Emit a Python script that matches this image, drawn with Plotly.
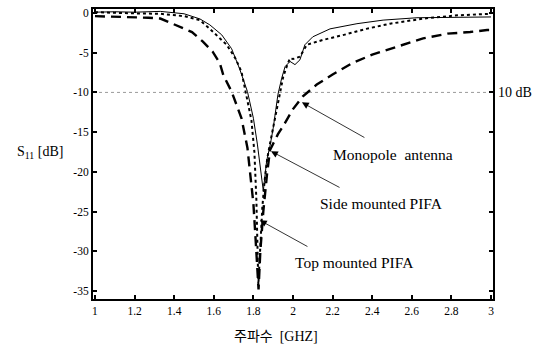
import plotly.graph_objects as go

# ---- data (frequency in GHz, S11 in dB) ----
mono_x = [1.00, 1.10, 1.20, 1.27, 1.33, 1.41, 1.49, 1.545, 1.595, 1.63, 1.648, 1.69, 1.74, 1.77,
          1.785, 1.80, 1.81, 1.82, 1.826, 1.835, 1.85, 1.869, 1.884, 1.924, 1.95, 2.00, 2.05,
          2.12, 2.20, 2.30, 2.40, 2.525, 2.657, 2.78, 2.894, 2.98, 3.00]
mono_y = [-0.4, -0.45, -0.5, -0.6, -0.7, -1.5, -2.4, -3.6, -4.9, -6.3, -7.8, -9.9, -13.25, -17.0,
          -20.25, -24.0, -28.0, -33.0, -34.8, -30.0, -25.0, -20.25, -17.25, -15.25, -14.25, -12.1, -10.5,
          -9.0, -7.75, -6.3, -5.25, -4.25, -3.2, -2.6, -2.4, -2.15, -2.15]

side_x = [1.00, 1.10, 1.20, 1.33, 1.45, 1.53, 1.58, 1.64, 1.69, 1.73, 1.77, 1.80, 1.82, 1.835,
          1.85, 1.867, 1.885, 1.90, 1.924, 1.943, 1.96, 1.985, 2.01, 2.035, 2.06, 2.10, 2.187,
          2.323, 2.455, 2.626, 2.83, 3.00]
side_y = [0.1, 0.15, 0.1, 0.2, -0.1, -0.75, -1.5, -2.75, -4.5, -7.0, -9.9, -13.25, -16.5, -19.5,
          -22.4, -18.6, -16.6, -14.5, -10.25, -8.2, -6.75, -6.1, -6.5, -5.9, -4.0, -3.0, -2.0,
          -1.35, -0.9, -0.6, -0.5, -0.5]

top_x = [1.00, 1.10, 1.20, 1.33, 1.45, 1.53, 1.58, 1.665, 1.71, 1.74, 1.76, 1.79, 1.805, 1.815,
         1.825, 1.835, 1.845, 1.857, 1.87, 1.885, 1.90, 1.93, 1.95, 1.97, 1.985, 2.00, 2.035,
         2.07, 2.15, 2.25, 2.37, 2.49, 2.66, 2.83, 3.00]
top_y = [0.1, 0.0, -0.05, -0.1, -0.4, -0.9, -2.0, -4.0, -5.75, -7.4, -9.9, -13.5, -17.5, -23.5,
         -34.2, -29.0, -24.5, -21.0, -18.3, -16.3, -14.3, -10.3, -8.1, -6.6, -5.7, -5.8, -5.5,
         -4.0, -3.4, -2.8, -2.0, -1.35, -0.7, -0.3, -0.1]

x_ticks = [1, 1.2, 1.4, 1.6, 1.8, 2, 2.2, 2.4, 2.6, 2.8, 3]
x_tick_text = ["1", "1.2", "1.4", "1.6", "1.8", "2", "2.2", "2.4", "2.6", "2.8", "3"]
y_ticks = [0, -5, -10, -15, -20, -25, -30, -35]
y_tick_text = ["0", "-5", "-10", "-15", "-20", "-25", "-30", "-35"]

ref_level = -10
labels = ["Monopole  antenna", "Side mounted PIFA", "Top mounted PIFA"]
arrow_tips = [(2.045, -11.25), (1.889, -17.4), (1.833, -26.1)]

serif = "Liberation Serif, Times New Roman, serif"

fig = go.Figure()
fig.add_trace(go.Scatter(x=mono_x, y=mono_y, mode="lines", name=labels[0],
                         line=dict(color="black", width=2.4, dash="10px,6px")))
fig.add_trace(go.Scatter(x=top_x, y=top_y, mode="lines", name=labels[2],
                         line=dict(color="black", width=2.0, dash="dot")))
fig.add_trace(go.Scatter(x=side_x, y=side_y, mode="lines", name=labels[1],
                         line=dict(color="black", width=1.0)))

# -10 dB reference line
fig.add_shape(type="line", xref="paper", x0=0, x1=1, yref="y", y0=ref_level, y1=ref_level,
              line=dict(color="#9a9a9a", width=1, dash="dot"), layer="below")

fig.add_annotation(xref="paper", x=1, xshift=3, xanchor="left", yref="y", y=ref_level,
                   text="10 dB", showarrow=False, font=dict(family=serif, size=14, color="black"))

# arrows
tails = [(64, 36), (70, 37), (49, 27)]
for (tx, ty), (ax, ay) in zip(arrow_tips, tails):
    fig.add_annotation(x=tx, y=ty, ax=ax, ay=ay, text="", showarrow=True,
                       arrowhead=2, arrowsize=1.7, arrowwidth=0.8, arrowcolor="black",
                       standoff=0)

# labels
label_pos = [(2.19, -17.75), (2.126, -24.0), (2.0, -31.4)]
for t, (lx, ly) in zip(labels, label_pos):
    fig.add_annotation(x=lx, y=ly, text=t, showarrow=False, xanchor="left", yanchor="middle",
                       font=dict(family=serif, size=15.5, color="black"))

# axis titles
fig.add_annotation(xref="paper", x=-0.1325, yref="y", y=-17.6, text="S<sub>11</sub> [dB]",
                   showarrow=False, xanchor="center", yanchor="middle",
                   font=dict(family=serif, size=14, color="black"))
fig.add_annotation(xref="paper", x=0.4575, yref="paper", y=-0.13, text="주파수  [GHZ]",
                   showarrow=False, xanchor="center", yanchor="middle",
                   font=dict(family="Liberation Serif, Noto Sans CJK KR, serif", size=14, color="black"))

axis_common = dict(showline=True, linecolor="black", linewidth=2, mirror="ticks",
                   ticks="inside", ticklen=4, tickwidth=1.5, tickcolor="black",
                   showgrid=False, zeroline=False,
                   tickfont=dict(family=serif, size=11.5, color="black"))

fig.update_xaxes(range=[0.99, 3.01], tickvals=x_ticks, ticktext=x_tick_text, **axis_common)
fig.update_yaxes(range=[-36, 0.5], tickvals=y_ticks, ticktext=y_tick_text, **axis_common)

fig.update_layout(width=536, height=352, margin=dict(l=93, r=43, t=7, b=53),
                  paper_bgcolor="white", plot_bgcolor="white", showlegend=False)

fig.write_html("out.html")
